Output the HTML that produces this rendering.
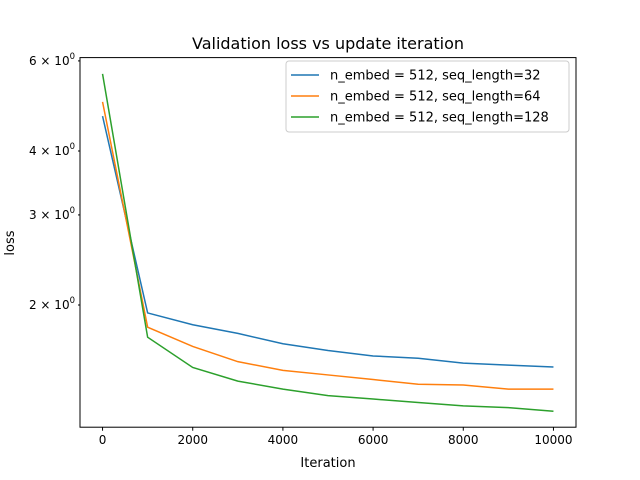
<!DOCTYPE html>
<html><head><meta charset="utf-8"><style>
body{margin:0;background:#fff}
svg{display:block;font-family:"DejaVu Sans","Liberation Sans",sans-serif}
</style></head><body>
<svg id="chart" width="640" height="480">
<text x="328" y="49" font-size="16" text-anchor="middle">Validation loss vs update iteration</text>
<text x="328" y="467" font-size="13" text-anchor="middle">Iteration</text>
<text transform="translate(14,243) rotate(-90)" font-size="13" text-anchor="middle">loss</text>
<g id="ticks"></g>
<g id="series"></g>
<rect x="80" y="57.6" width="496" height="369.6" fill="none" stroke="#000" stroke-width="1"/>
<g id="legend">
<rect x="286" y="61" width="283" height="71" rx="3" fill="#fff" fill-opacity="0.8" stroke="#ccc"/>
</g>
</svg>
<script>
const xs=[0,1000,2000,3000,4000,5000,6000,7000,8000,9000,10000];
const blue=[4.68,1.93,1.83,1.76,1.68,1.63,1.59,1.574,1.54,1.526,1.513];
const orange=[4.99,1.81,1.66,1.55,1.49,1.46,1.43,1.40,1.395,1.37,1.37];
const green=[5.66,1.73,1.51,1.42,1.37,1.33,1.31,1.29,1.27,1.26,1.24];
const seriesNames=["n_embed = 512, seq_length=32","n_embed = 512, seq_length=64","n_embed = 512, seq_length=128"];
const xTicks=[0,2000,4000,6000,8000,10000];
const yTicks=[2,3,4,6];
const yTickLabels=["2","3","4","6"];
const colors=["#1f77b4","#ff7f0e","#2ca02c"];
const NS="http://www.w3.org/2000/svg";
const L=80,R=576,T=57.6,B=427.2,x0=-500,x1=10500,y0=1.154,y1=6.09;
const X=v=>L+(v-x0)/(x1-x0)*(R-L);
const Y=v=>B-(Math.log(v)-Math.log(y0))/(Math.log(y1)-Math.log(y0))*(B-T);
function mk(t,a,p){const e=document.createElementNS(NS,t);for(const k in a)e.setAttribute(k,a[k]);p.appendChild(e);return e;}
const tg=document.getElementById('ticks');
xTicks.forEach(v=>{
 const l=mk('line',{x1:X(v),x2:X(v),y1:B,y2:B+3.5,stroke:'#000'},tg);
 
 
 const t=mk('text',{x:X(v),y:B+17,'font-size':12,'text-anchor':'middle'},tg);t.textContent=v;
 
 
});
yTicks.forEach((v,i)=>{
 const l=mk('line',{x1:L-2,x2:L,y1:Y(v),y2:Y(v),stroke:'#000'},tg);
 
 
 const t=mk('text',{x:L-5,y:Y(v)+4,'font-size':12,'text-anchor':'end'},tg);
 t.innerHTML=yTickLabels[i]+' × 10<tspan dy="-6" font-size="8.5">0</tspan>';
 
 
});
const sg=document.getElementById('series');
[blue,orange,green].forEach((d,i)=>{
 const p=mk('polyline',{points:xs.map((x,j)=>X(x)+','+Y(d[j])).join(' '),fill:'none',stroke:colors[i],'stroke-width':1.5},sg);
 
 
});
const lg=document.getElementById('legend');
seriesNames.forEach((n,i)=>{
 const y=75+i*21;
 const l=mk('line',{x1:291,x2:319,y1:y,y2:y,stroke:colors[i],'stroke-width':1.5},lg);
 
 
 const t=mk('text',{x:330,y:y+4.5,'font-size':13},lg);t.textContent=n;
 
 
});
</script>
</body></html>
